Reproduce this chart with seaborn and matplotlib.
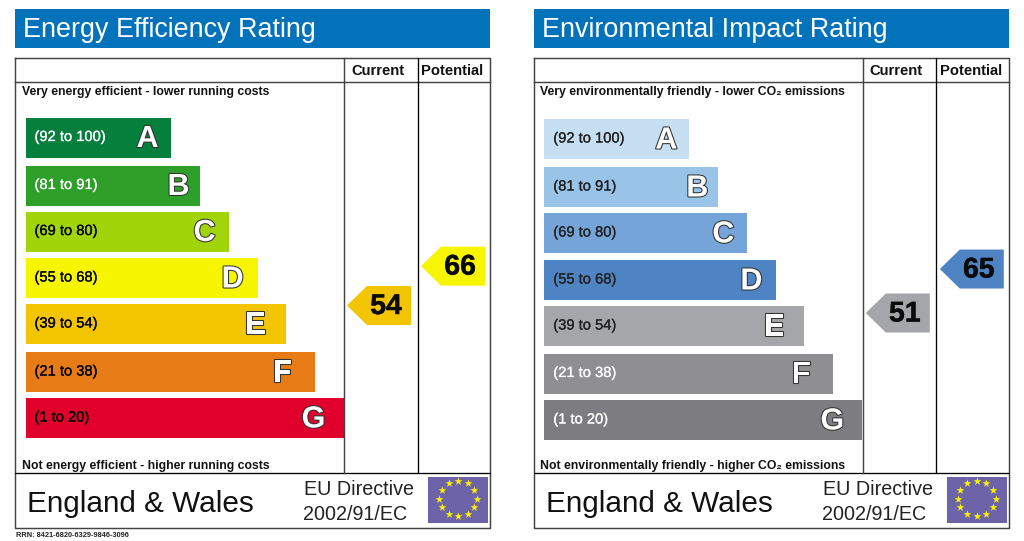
import matplotlib
matplotlib.use("Agg")
import matplotlib.pyplot as plt
import matplotlib.patheffects as pe
from matplotlib.patches import Polygon, Rectangle
import numpy as np
import pandas as pd
import seaborn as sns

bands = ["A", "B", "C", "D", "E", "F", "G"]
ranges = ["(92 to 100)", "(81 to 91)", "(69 to 80)", "(55 to 68)", "(39 to 54)", "(21 to 38)", "(1 to 20)"]
bar_lengths = [145, 174, 203, 232, 260, 289, 318]

titles = ["Energy Efficiency Rating", "Environmental Impact Rating"]
top_notes = ["Very energy efficient - lower running costs", "Very environmentally friendly - lower CO₂ emissions"]
bottom_notes = ["Not energy efficient - higher running costs", "Not environmentally friendly - higher CO₂ emissions"]
colors_eer = ["#057f3c", "#2ea02a", "#a2d40a", "#f8f500", "#f2c500", "#e77c17", "#e0002b"]
colors_eir = ["#c6dff3", "#9ac3e8", "#74a4d8", "#4f84c4", "#a5a6a9", "#8f8f91", "#7d7c80"]
label_colors_eer = ["white", "white", "black", "black", "black", "black", "black"]
label_colors_eir = ["#222222", "#222222", "#222222", "#222222", "#222222", "white", "white"]
current_scores = [54, 51]
potential_scores = [66, 65]
score_colors_eer = ["#f2c500", "#f8f500"]
score_colors_eir = ["#a5a6a9", "#4f84c4"]
rrn = "RRN: 8421-6820-6329-9846-3096"

# layout (pixels)
BAR_CENTRES = [[137.5, 185.5, 231.5, 278, 324, 372, 418],
               [139, 187, 233, 280, 326, 373.5, 420]]
LETTER_INSET = [23, 21, 24, 25, 30, 32, 30]
SCORE_REF = [(54, 305.5, 3.28), (51, 313, 3.14)]
OFFSETS = [0, 518.8]
X0 = 25.5

sns.set_theme(style="white")
plt.rcParams["font.family"] = ["Liberation Sans", "DejaVu Sans"]
fig = plt.figure(figsize=(10.24, 5.41), dpi=100)
fig.patch.set_facecolor("white")
W, H = 1024, 541


def panel(i, colors, label_colors, score_cols):
    off = OFFSETS[i]
    ax = fig.add_axes([off / W, 0, 505 / W, 1])
    ax.patch.set_alpha(0)
    X = lambda px: px - X0
    df = pd.DataFrame({"length": bar_lengths, "y": BAR_CENTRES[i], "band": bands})
    sns.barplot(data=df, x="length", y="y", hue="band", palette=colors, orient="y",
                native_scale=True, dodge=False, width=40 / 46, saturation=1,
                legend=False, ax=ax, linewidth=0, zorder=2)
    ax.set_xlim(-X0, 505 - X0)
    ax.set_ylim(H, 0)
    ax.axis("off")

    # title banner
    ax.add_patch(Rectangle((X(15), 9), 475, 39, fc="#0272bb", ec="none", clip_on=False))
    ax.text(X(23), 30, titles[i], color="white", fontsize=19.4, va="center", ha="left", clip_on=False)

    # frame
    ln = dict(color="#444444", lw=1.05, clip_on=False, zorder=3, solid_capstyle="projecting")
    ax.plot([X(15), X(490), X(490), X(15), X(15)], [57.5, 57.5, 527.5, 527.5, 57.5], **ln)
    ax.plot([X(15), X(490)], [82, 82], **ln)
    ax.plot([X(15), X(490)], [473, 473], color="black", lw=0.95, zorder=3)
    ax.plot([X(344), X(344)], [57.5, 473], **ln)
    ax.plot([X(417.5), X(417.5)], [57.5, 473], color="black", lw=0.95, zorder=3)

    hdr = dict(fontsize=10.6, fontweight="bold", va="center", ha="center", color="#111111")
    ax.text(X(377.5), 71, "Current", **hdr)
    ax.text(X(452.5), 71, "Potential", **hdr)

    note = dict(fontsize=8.8, fontweight="bold", va="center", ha="left", color="#111111")
    ax.text(X(21.5), 91.5, top_notes[i], **note)
    ax.text(X(21.5), 465.5, bottom_notes[i], **note)

    for j, (b, r) in enumerate(zip(bands, ranges)):
        yc = BAR_CENTRES[i][j]
        t = ax.text(X(34.5), yc - 0.5, r, color=label_colors[j], fontsize=10.6,
                    va="center", ha="left", zorder=4)
        t.set_path_effects([pe.withStroke(linewidth=0.15, foreground=label_colors[j])])
        t = ax.text(bar_lengths[j] - LETTER_INSET[j], yc + 1.5, b, color="white", fontsize=22, fontweight="bold",
                    va="center", ha="center", zorder=4)
        t.set_path_effects([pe.withStroke(linewidth=1.5, foreground="#333333")])

    # score arrows
    ref_s, ref_y, k = SCORE_REF[i]
    for s, xl, col in ((current_scores[i], 347, score_cols[0]), (potential_scores[i], 421, score_cols[1])):
        yc = ref_y - (s - ref_s) * k
        pts = [(X(xl), yc), (X(xl + 20), yc - 19.5), (X(xl + 64), yc - 19.5),
               (X(xl + 64), yc + 19.5), (X(xl + 20), yc + 19.5)]
        ax.add_patch(Polygon(pts, closed=True, fc=col, ec="none", zorder=3))
        t = ax.text(X(xl + 39), yc + 1.5, str(s), color="#0a0a0a", fontsize=20.5, fontweight="bold",
                    va="center", ha="center", zorder=4)
        t.set_path_effects([pe.withStroke(linewidth=0.3, foreground="#0a0a0a")])

    # footer
    ax.text(X(27), 504, "England & Wales", fontsize=21.4, color="#111111", va="center", ha="left")
    ax.text(X(304), 489.5, "EU Directive", fontsize=14.2, color="#222222", va="center", ha="left")
    ax.text(X(303), 515, "2002/91/EC", fontsize=14.2, color="#222222", va="center", ha="left")
    ax.add_patch(Rectangle((X(428), 477), 60, 46, fc="#6c63a8", ec="none"))
    ang = np.deg2rad(np.arange(0, 360, 30))
    ax.scatter(X(458) + 19 * np.cos(ang), 498.5 + 17.5 * np.sin(ang), marker="*", s=36,
               color="#fff200", linewidths=0, zorder=4)
    return ax


ax0 = panel(0, colors_eer, label_colors_eer, score_colors_eer)
panel(1, colors_eir, label_colors_eir, score_colors_eir)
ax0.text(16 - X0, 535.5, rrn, fontsize=5.35, fontweight="bold", color="#222222", va="center", ha="left", clip_on=False)

fig.savefig("out.png", dpi=100)
